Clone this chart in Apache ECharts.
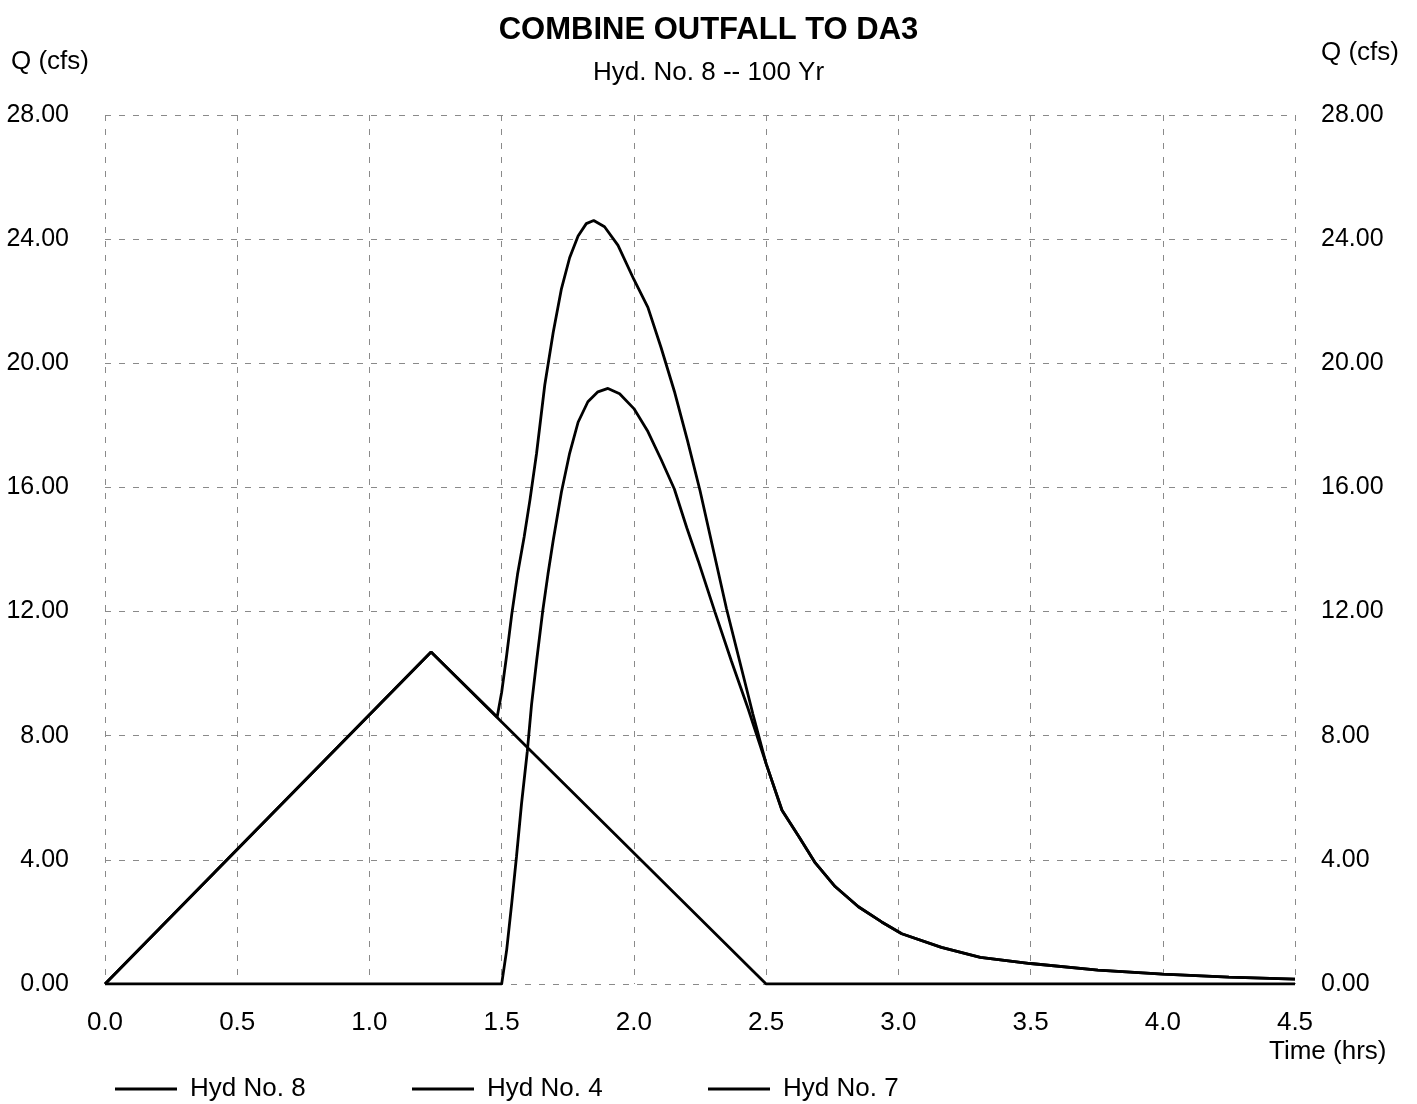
<!DOCTYPE html>
<html>
<head>
<meta charset="utf-8">
<title>COMBINE OUTFALL TO DA3</title>
<script src="https://cdn.jsdelivr.net/npm/echarts@6/dist/echarts.min.js"></script>
<style>
  html, body { margin: 0; padding: 0; background: #fff; }
  #chart { width: 1417px; height: 1104px; }
</style>
</head>
<body>
<div id="chart"></div>
<script>
// time (hrs) / flow (cfs)
var hyd4Time = [0, 1.233, 2.5, 4.5];
var hyd4Flow = [0, 10.7, 0, 0];

var hyd7Time = [0, 1.5, 1.519, 1.538, 1.556, 1.575, 1.597, 1.613, 1.632, 1.655, 1.675, 1.695, 1.726, 1.757, 1.789, 1.826, 1.864, 1.902, 1.946,
  2.0, 2.053, 2.103, 2.153, 2.20, 2.243, 2.306, 2.369, 2.432, 2.5,
  2.56, 2.623, 2.686, 2.761, 2.849, 2.937, 3.013, 3.163, 3.31, 3.5, 3.755, 4.0, 4.25, 4.5];
var hyd7Flow = [0, 0, 1.1, 2.6, 4.1, 5.8, 7.5, 9.0, 10.4, 12.0, 13.2, 14.3, 15.85, 17.1, 18.1, 18.76, 19.08, 19.19, 19.02,
  18.54, 17.8, 16.9, 15.95, 14.7, 13.64, 12.0, 10.4, 8.87, 7.1,
  5.6, 4.76, 3.9, 3.14, 2.49, 2.0, 1.62, 1.18, 0.86, 0.66, 0.45, 0.32, 0.22, 0.16];

var hyd8Time = [0, 1.233, 1.483, 1.5, 1.519, 1.538, 1.56, 1.585, 1.607, 1.632, 1.663, 1.695, 1.726, 1.757, 1.789, 1.82, 1.848, 1.889, 1.94,
  2.0, 2.053, 2.103, 2.153, 2.203, 2.25, 2.30, 2.35, 2.40, 2.45, 2.5,
  2.56, 2.623, 2.686, 2.761, 2.849, 2.937, 3.013, 3.163, 3.31, 3.5, 3.755, 4.0, 4.25, 4.5];
var hyd8Flow = [0, 10.7, 8.6, 9.4, 10.6, 11.9, 13.2, 14.4, 15.6, 17.1, 19.3, 21.0, 22.4, 23.4, 24.1, 24.5, 24.6, 24.4, 23.8,
  22.7, 21.8, 20.5, 19.1, 17.5, 15.9, 14.0, 12.1, 10.4, 8.7, 7.1,
  5.6, 4.76, 3.9, 3.14, 2.49, 2.0, 1.62, 1.18, 0.86, 0.66, 0.45, 0.32, 0.22, 0.16];

var seriesNames = ['Hyd No. 8', 'Hyd No. 4', 'Hyd No. 7'];

function pairs (t, q) {
  return t.map(function (v, i) { return [v, q[i]]; });
}

var font = 'Liberation Sans, Arial, sans-serif';
var gridLine = { show: true, lineStyle: { color: '#8a8a8a', type: [6, 8], width: 1 } };

var chart = echarts.init(document.getElementById('chart'));

var option = {
  backgroundColor: '#fff',
  animation: false,
  textStyle: { fontFamily: font, color: '#000' },
  title: [
    {
      text: 'COMBINE OUTFALL TO DA3',
      left: 'center', top: 10,
      textStyle: { fontSize: 31, fontWeight: 'bold', color: '#000', fontFamily: font }
    },
    {
      text: 'Hyd. No. 8 -- 100 Yr',
      left: 'center', top: 55,
      textStyle: { fontSize: 26, fontWeight: 'normal', color: '#000', fontFamily: font }
    },
    {
      text: 'Q (cfs)', left: 6, top: 44,
      textStyle: { fontSize: 26, fontWeight: 'normal', color: '#000', fontFamily: font }
    },
    {
      text: 'Q (cfs)', left: 1316, top: 35,
      textStyle: { fontSize: 26, fontWeight: 'normal', color: '#000', fontFamily: font }
    },
    {
      text: 'Time (hrs)', left: 1264, top: 1034,
      textStyle: { fontSize: 26, fontWeight: 'normal', color: '#000', fontFamily: font }
    }
  ],
  legend: [0, 1, 2].map(function (i) {
    return {
      data: [seriesNames[i]],
      left: [110, 407, 703][i], top: 1071,
      icon: 'rect', itemWidth: 62, itemHeight: 3,
      textStyle: { fontSize: 26, color: '#000', fontFamily: font, padding: [0, 0, 0, 8] },
      selectedMode: false
    };
  }),
  grid: { left: 105, right: 122, top: 115, bottom: 120 },
  xAxis: {
    type: 'value', min: 0, max: 4.5, interval: 0.5,
    axisLine: { show: false }, axisTick: { show: false },
    axisLabel: { fontSize: 26, color: '#000', margin: 26, formatter: function (v) { return v.toFixed(1); } },
    splitLine: gridLine
  },
  yAxis: [
    {
      type: 'value', min: 0, max: 28, interval: 4, position: 'left',
      axisLine: { show: false }, axisTick: { show: false },
      axisLabel: { fontSize: 25, color: '#000', margin: 36, formatter: function (v) { return v.toFixed(2); } },
      splitLine: gridLine
    },
    {
      type: 'value', min: 0, max: 28, interval: 4, position: 'right',
      axisLine: { show: false }, axisTick: { show: false },
      axisLabel: { fontSize: 25, color: '#000', margin: 26, formatter: function (v) { return v.toFixed(2); } },
      splitLine: { show: false }
    }
  ],
  series: [
    {
      name: seriesNames[0], type: 'line', showSymbol: false, symbol: 'none',
      data: pairs(hyd8Time, hyd8Flow),
      itemStyle: { color: '#000' }, lineStyle: { color: '#000', width: 2.8 }
    },
    {
      name: seriesNames[1], type: 'line', showSymbol: false, symbol: 'none',
      data: pairs(hyd4Time, hyd4Flow),
      itemStyle: { color: '#000' }, lineStyle: { color: '#000', width: 2.8 }
    },
    {
      name: seriesNames[2], type: 'line', showSymbol: false, symbol: 'none',
      data: pairs(hyd7Time, hyd7Flow),
      itemStyle: { color: '#000' }, lineStyle: { color: '#000', width: 2.8 }
    }
  ]
};

chart.setOption(option);
</script>
</body>
</html>
